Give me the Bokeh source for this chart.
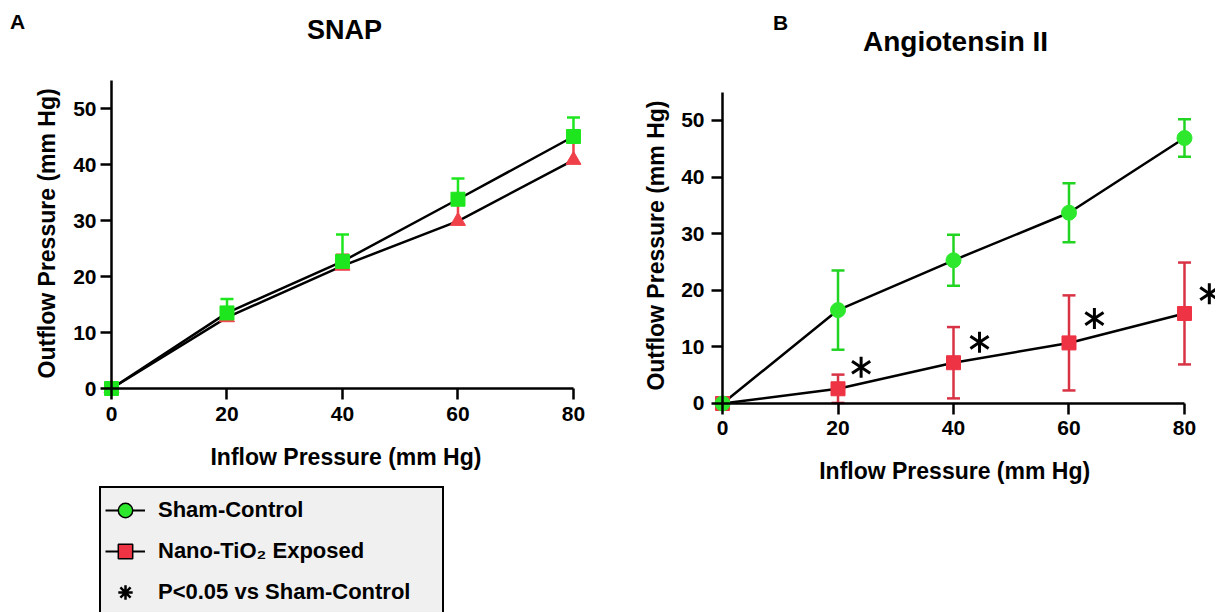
import math
from bokeh.plotting import figure
from bokeh.models import (Range1d, FixedTicker, Whisker, TeeHead, ColumnDataSource,
                          Label, Legend, LegendItem)
from bokeh.layouts import row
from bokeh.embed import file_html
from bokeh.resources import INLINE

# ---------------- data ----------------
inflow = [0, 20, 40, 60, 80]

snap_sham = [0, 13.5, 22.7, 33.8, 45.0]
snap_sham_err = [0, 2.5, 4.8, 3.7, 3.4]
snap_tio2 = [0, 12.7, 21.9, 29.9, 40.8]
snap_tio2_err = [0, 1.4, 2.0, 3.4, 4.0]

ang_sham = [0, 16.5, 25.3, 33.7, 46.9]
ang_sham_err = [0, 7.0, 4.5, 5.2, 3.3]
ang_tio2 = [0, 2.6, 7.2, 10.7, 15.9]
ang_tio2_err = [0, 2.5, 6.3, 8.4, 9.0]

sig_x = [24.0, 44.5, 64.4, 84.3]
sig_y = [6.4, 10.8, 15.0, 19.4]

x_ticks = [0, 20, 40, 60, 80]
y_ticks = [0, 10, 20, 30, 40, 50]

FONT = "Liberation Sans"
GREEN_A = "#1ee61e"
GREEN_B = "#2ee82e"
GREEN_BAR = "#22d422"
RED_A = "#f0404a"
RED_B = "#ee3344"
RED_BAR = "#d83344"
NAN = float("nan")


def style_axes(p, ystd, xstd):
    p.grid.visible = False
    p.outline_line_color = None
    p.xaxis.fixed_location = 0
    p.yaxis.fixed_location = 0
    p.xaxis.bounds = (0, 80)
    p.yaxis.bounds = (0, 55)
    p.xaxis.ticker = FixedTicker(ticks=x_ticks)
    p.yaxis.ticker = FixedTicker(ticks=y_ticks)
    for ax in (p.xaxis[0], p.yaxis[0]):
        ax.axis_line_width = 2.5
        ax.axis_line_color = "black"
        ax.major_tick_line_width = 2.5
        ax.major_tick_line_color = "black"
        ax.major_tick_in = 0
        ax.major_tick_out = 11
        ax.minor_tick_line_color = None
        ax.major_label_text_font = FONT
        ax.major_label_text_font_style = "bold"
        ax.major_label_text_font_size = "21px"
        ax.major_label_text_color = "black"
    p.yaxis.major_label_standoff = ystd
    p.xaxis.major_label_standoff = xstd


def add_whisker(p, xs, means, errs, color, down=False):
    lower = [m - e if down else m for m, e in zip(means, errs)]
    upper = [m + e for m, e in zip(means, errs)]
    src = ColumnDataSource(dict(x=xs[1:], lower=lower[1:], upper=upper[1:]))
    w = Whisker(base="x", lower="lower", upper="upper", source=src,
                line_color=color, line_width=2.5,
                upper_head=TeeHead(size=13, line_color=color, line_width=2.5),
                lower_head=TeeHead(size=13, line_color=color, line_width=2.5) if down else None)
    p.add_layout(w)


def add_star(p, xs, ys, size, width):
    # six-armed asterisk: a "y" marker plus the same marker turned upside down
    a = p.scatter(xs, ys, marker="y", size=size, line_color="black", line_width=width)
    b = p.scatter(xs, ys, marker="y", size=size, angle=math.pi, line_color="black",
                  line_width=width)
    return [a, b]


def text_label(p, x, y, text, size, angle=0):
    p.add_layout(Label(x=x, y=y, text=text, text_align="center", text_baseline="middle",
                       angle=angle, angle_units="deg",
                       text_font=FONT, text_font_style="bold", text_font_size=size,
                       text_color="black"))


# ---------------- Panel A : SNAP ----------------
pA = figure(width=600, height=612, output_backend="svg", toolbar_location=None,
            x_range=Range1d(-19.22, 84.68), y_range=Range1d(-40.0, 69.29),
            min_border=0, min_border_left=0, min_border_right=0,
            min_border_top=0, min_border_bottom=0)
style_axes(pA, 4, 7)

add_whisker(pA, inflow, snap_tio2, snap_tio2_err, RED_A)
add_whisker(pA, inflow, snap_sham, snap_sham_err, GREEN_A)
pA.line(inflow, snap_tio2, line_color="black", line_width=2.5)
pA.line(inflow, snap_sham, line_color="black", line_width=2.5)
pA.scatter(inflow, snap_tio2, marker="triangle", size=15, fill_color=RED_A, line_color=RED_A)
pA.scatter(inflow, snap_sham, marker="square", size=14, fill_color=GREEN_A, line_color=GREEN_A)

text_label(pA, -16.28, 65.6, "A", "21px")
text_label(pA, 40.35, 64.1, "SNAP", "27px")
text_label(pA, -11.1, 27.7, "Outflow Pressure (mm Hg)", "23px", angle=90)
text_label(pA, 40.6, -12.3, "Inflow Pressure (mm Hg)", "23px")

# legend (proxies hold no drawable points)
l1 = pA.line(x=[NAN], y=[NAN], line_color="black", line_width=2)
s1 = pA.scatter(x=[NAN], y=[NAN], marker="circle", fill_color=GREEN_B,
                line_color="black", line_width=1.5)
l2 = pA.line(x=[NAN], y=[NAN], line_color="black", line_width=2)
s2 = pA.scatter(x=[NAN], y=[NAN], marker="square", fill_color=RED_B,
                line_color="black", line_width=1.5)
s3 = pA.scatter(x=[NAN], y=[NAN], marker="asterisk", line_color="black", line_width=2.5)

legend = Legend(items=[LegendItem(label="Sham-Control", renderers=[l1, s1]),
                       LegendItem(label="Nano-TiO\u2082 Exposed", renderers=[l2, s2]),
                       LegendItem(label="P<0.05 vs Sham-Control", renderers=[s3])],
                location=(99, -4), orientation="vertical",
                glyph_width=40, glyph_height=36, label_height=36, label_width=280,
                spacing=5, padding=4, margin=0, label_standoff=13,
                label_text_font=FONT, label_text_font_style="bold",
                label_text_font_size="22px", label_text_color="black",
                border_line_color="black", border_line_width=2, border_line_alpha=1.0,
                background_fill_color="#f0f0f0", background_fill_alpha=1.0)
pA.add_layout(legend)

# ---------------- Panel B : Angiotensin II ----------------
pB = figure(width=615, height=612, output_backend="svg", toolbar_location=None,
            x_range=Range1d(-21.13, 85.37), y_range=Range1d(-36.93, 71.20),
            min_border=0, min_border_left=0, min_border_right=0,
            min_border_top=0, min_border_bottom=0)
style_axes(pB, 7, 7)

add_whisker(pB, inflow, ang_tio2, ang_tio2_err, RED_BAR, down=True)
add_whisker(pB, inflow, ang_sham, ang_sham_err, GREEN_BAR, down=True)
pB.line(inflow, ang_tio2, line_color="black", line_width=2.5)
pB.line(inflow, ang_sham, line_color="black", line_width=2.5)
pB.scatter(inflow, ang_tio2, marker="square", size=14, fill_color=RED_B, line_color=RED_B)
pB.scatter(inflow, ang_sham, marker="circle", size=15, fill_color=GREEN_B, line_color=GREEN_B)
add_star(pB, sig_x, sig_y, 21, 3)

text_label(pB, 10.04, 67.4, "B", "21px")
text_label(pB, 40.35, 63.87, "Angiotensin II", "28px")
text_label(pB, -11.6, 27.9, "Outflow Pressure (mm Hg)", "23px", angle=90)
text_label(pB, 40.2, -12.0, "Inflow Pressure (mm Hg)", "23px")

layout = row(pA, pB)

with open("out.html", "w") as f:
    f.write(file_html(layout, INLINE))
